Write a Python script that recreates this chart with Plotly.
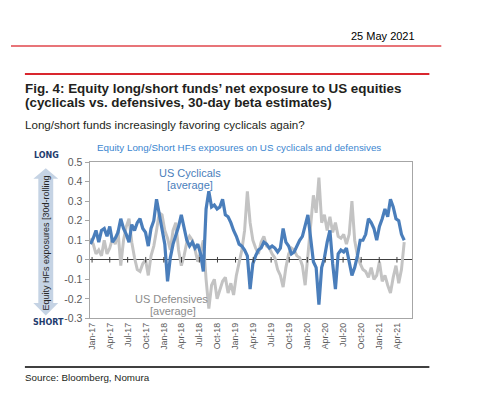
import pandas as pd
import plotly.graph_objects as go

# ---------------- data (bi-weekly readings) ----------------
start_date = "2016-12-24"
cyclicals = [
    0.08, 0.11, 0.15, 0.09, 0.15, 0.16, 0.12, 0.17, 0.09, 0.11,
    0.14, 0.21, 0.16, 0.13, 0.09, 0.18, 0.15, 0.19, 0.21, 0.16,
    0.14, 0.07, 0.16, 0.20, 0.31, 0.24, 0.16, 0.08, -0.11, 0.01,
    0.08, 0.12, 0.17, 0.23, 0.17, 0.10, 0.07, 0.09, 0.06, 0.08,
    0.03, -0.06, 0.26, 0.35, 0.27, 0.28, 0.26, 0.27, 0.31, 0.23,
    0.22, 0.19, 0.15, 0.12, 0.08, 0.07, 0.05, 0.02, -0.15, -0.02,
    0.02, 0.05, 0.06, 0.09, 0.08, 0.06, 0.07, 0.06, 0.04, 0.06,
    0.16, 0.09, 0.07, 0.03, 0.04, 0.07, 0.10, 0.12, 0.17, 0.23,
    0.11, -0.01, -0.04, -0.23, -0.04, 0.01, 0.09, 0.15, -0.02, -0.15,
    0.03, 0.05, 0.04, 0.06, -0.01, -0.08, -0.04, 0.02, 0.10, 0.10,
    0.13, 0.21, 0.19, 0.16, 0.10, 0.17, 0.21, 0.26, 0.22, 0.31,
    0.27, 0.21, 0.20, 0.13, 0.10,
]
defensives = [
    0.11, 0.08, 0.03, 0.05, 0.02, 0.10, 0.03, 0.06, 0.11, 0.08,
    0.15, -0.03, 0.10, 0.17, 0.21, 0.09, 0.01, -0.05, -0.06, -0.02,
    0.00, -0.08, 0.02, 0.07, 0.15, 0.24, 0.23, 0.15, 0.11, 0.05,
    0.15, 0.19, 0.05, -0.03, 0.02, 0.09, 0.12, 0.10, 0.05, -0.01,
    0.04, 0.10, -0.10, -0.25, -0.13, -0.10, -0.20, -0.15, -0.11, -0.09,
    -0.17, -0.12, -0.18, -0.08, -0.02, 0.05, 0.15, 0.35, 0.19, 0.10,
    0.06, 0.03, 0.09, 0.12, 0.07, 0.06, 0.03, 0.01, -0.05, -0.08,
    -0.14, -0.04, 0.03, 0.06, 0.05, 0.02, 0.01, -0.03, -0.13, 0.03,
    0.17, 0.33, 0.24, 0.42, 0.19, 0.23, 0.15, 0.22, 0.14, 0.19,
    0.12, 0.11, 0.13, 0.08, 0.13, 0.30, 0.10, 0.02, -0.02, -0.05,
    -0.06, -0.09, -0.04, -0.10, -0.08, -0.01, -0.11, -0.08, -0.13, -0.17,
    -0.09, -0.03, -0.12, -0.05, 0.09,
]
xtick_dates = [
    "2017-01-01", "2017-04-01", "2017-07-01", "2017-10-01",
    "2018-01-01", "2018-04-01", "2018-07-01", "2018-10-01",
    "2019-01-01", "2019-04-01", "2019-07-01", "2019-10-01",
    "2020-01-01", "2020-04-01", "2020-07-01", "2020-10-01",
    "2021-01-01", "2021-04-01",
]
xtick_labels = [
    "Jan-17", "Apr-17", "Jul-17", "Oct-17", "Jan-18", "Apr-18", "Jul-18", "Oct-18",
    "Jan-19", "Apr-19", "Jul-19", "Oct-19", "Jan-20", "Apr-20", "Jul-20", "Oct-20",
    "Jan-21", "Apr-21",
]
ytick_vals = [-0.3, -0.2, -0.1, 0, 0.1, 0.2, 0.3, 0.4, 0.5]
ytick_labels = ["-0.3", "-0.2", "-0.1", "0", "0.1", "0.2", "0.3", "0.4", "0.5"]

dates = pd.date_range(start_date, periods=len(cyclicals), freq="14D")

W, H = 480, 393
FONT = "Liberation Sans, Arial, sans-serif"


def fx(px):
    return px / W


def fy(py):
    return 1 - py / H


BLUE = "#4a7ebb"
GREY = "#c3c3c3"

fig = go.Figure()
fig.add_trace(go.Scatter(x=dates, y=defensives, mode="lines",
                         line=dict(color=GREY, width=3), showlegend=False))
fig.add_trace(go.Scatter(x=dates, y=cyclicals, mode="lines",
                         line=dict(color=BLUE, width=3.2), showlegend=False))
# small tick marks on the zero line
fig.add_trace(go.Scatter(x=xtick_dates, y=[0] * len(xtick_dates), mode="markers",
                         marker=dict(symbol="line-ns", size=4,
                                     line=dict(color="#404040", width=1)),
                         showlegend=False, hoverinfo="skip"))

fig.update_layout(
    width=W, height=H, autosize=False,
    margin=dict(l=0, r=0, t=0, b=0),
    paper_bgcolor="white", plot_bgcolor="white",
    font=dict(family=FONT, color="#595959"),
    xaxis=dict(
        domain=[fx(79), fx(404)],
        range=["2016-12-19", "2021-06-19"],
        tickvals=xtick_dates, ticktext=xtick_labels, tickangle=-90,
        tickfont=dict(size=8.8, color="#595959", family=FONT),
        showgrid=False, zeroline=False,
        showline=True, linecolor="#a6a6a6", linewidth=1, mirror=True,
        ticks="",
    ),
    yaxis=dict(
        domain=[fy(314), fy(152.7)],
        range=[-0.3, 0.5],
        tickvals=ytick_vals, ticktext=ytick_labels,
        tickfont=dict(size=10.5, color="#595959", family=FONT),
        showgrid=False,
        zeroline=True, zerolinecolor="#404040", zerolinewidth=1,
        showline=True, linecolor="#a6a6a6", linewidth=1, mirror=True,
        ticks="outside", ticklen=4, tickcolor="#a6a6a6",
    ),
)

shapes = []
# red header lines
shapes.append(dict(type="line", xref="paper", yref="paper",
                   x0=fx(0), x1=fx(433), y0=fy(33), y1=fy(33),
                   line=dict(color="#e0464b", width=1.3)))
shapes.append(dict(type="line", xref="paper", yref="paper",
                   x0=fx(14), x1=fx(421), y0=fy(62), y1=fy(62),
                   line=dict(color="#d9262e", width=2)))
# black source line
shapes.append(dict(type="line", xref="paper", yref="paper",
                   x0=fx(14), x1=fx(421), y0=fy(364), y1=fy(364),
                   line=dict(color="#000000", width=1.5)))
# double-headed arrow on the left
cx = 35
pts = [(cx, 159), (cx + 12.5, 170), (cx + 7.5, 170), (cx + 7.5, 298),
       (cx + 12.5, 298), (cx, 311), (cx - 12.5, 298), (cx - 7.5, 298),
       (cx - 7.5, 170), (cx - 12.5, 170)]
path = "M " + " L ".join(f"{fx(a):.5f},{fy(b):.5f}" for a, b in pts) + " Z"
shapes.append(dict(type="path", xref="paper", yref="paper", path=path,
                   fillcolor="#c5d3e4", line=dict(width=0), layer="below"))
fig.update_layout(shapes=shapes)

ann = []


def add_text(text, x, y, size, color="#000000", xanchor="left", bold=False,
             family=FONT, angle=0, yanchor="middle"):
    if bold:
        text = "<b>" + text + "</b>"
    ann.append(dict(text=text, x=fx(x), y=fy(y), xref="paper", yref="paper",
                    xanchor=xanchor, yanchor=yanchor, showarrow=False,
                    textangle=angle,
                    font=dict(size=size, color=color, family=family)))


add_text("25 May 2021", 409, 22.5, 11, xanchor="right")
add_text("Fig. 4: Equity long/short funds’ net exposure to US equities", 12.5, 76.5, 13.4,
         color="#231f20", bold=True)
add_text("(cyclicals vs. defensives, 30-day beta estimates)", 12.5, 91.5, 13.4,
         color="#231f20", bold=True)
add_text("Long/short funds increasingly favoring cyclicals again?", 12.5, 113.5, 11.6,
         color="#231f20")
add_text("Equity Long/Short HFs exposures on US cyclicals and defensives", 229, 138, 9.8,
         color="#3b86d0", xanchor="center")
add_text("US Cyclicals", 180, 164, 11, color=BLUE, xanchor="center")
add_text("[average]", 180, 176, 11, color=BLUE, xanchor="center")
add_text("US Defensives", 162, 294, 11, color="#8c8c8c", xanchor="center")
add_text("[average]", 163, 306, 11, color="#8c8c8c", xanchor="center")
add_text("LONG", 36, 146, 8, color="#1f3c6e", xanchor="center", bold=True,
         family="DejaVu Sans, sans-serif")
add_text("SHORT", 38, 318, 8, color="#1f3c6e", xanchor="center", bold=True,
         family="DejaVu Sans, sans-serif")
add_text("Equity HFs exposures [30d-rolling", 35, 236, 9, color="#262626",
         xanchor="center", angle=-90)
add_text("Source: Bloomberg, Nomura", 12.5, 374.5, 9.8, color="#231f20")
fig.update_layout(annotations=ann)

fig.write_html("out.html")
